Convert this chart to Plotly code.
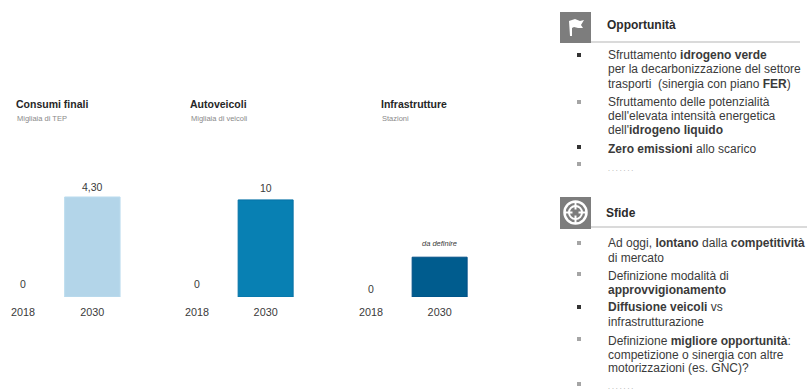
import math
import plotly.graph_objects as go
from plotly.subplots import make_subplots

W, H = 807, 390

years = ["2018", "2030"]
consumi_values = [0, 4.30]
consumi_labels = ["0", "4,30"]
autoveicoli_values = [0, 10]
autoveicoli_labels = ["0", "10"]
infrastrutture_values = [0, 4.1]
infrastrutture_labels = ["0", "<i>da definire</i>"]

panel_titles = ["Consumi finali", "Autoveicoli", "Infrastrutture"]
panel_units = ["Migliaia di TEP", "Migliaia di veicoli", "Stazioni"]
bar_colors = ["#b3d5e9", "#0880b3", "#005c8e"]
bar_edges = ["#bcdcee", "#0672a6", "#004f86"]

opportunita_lines = [
    "Sfruttamento <b>idrogeno verde</b>",
    "per la decarbonizzazione del settore",
    "trasporti  (sinergia con piano <b>FER</b>)",
    "Sfruttamento delle potenzialità",
    "dell'elevata intensità energetica",
    "dell'<b>idrogeno liquido</b>",
    "<b>Zero emissioni</b> allo scarico",
    ". . . . . . .",
]
sfide_lines = [
    "Ad oggi, <b>lontano</b> dalla <b>competitività</b>",
    "di mercato",
    "Definizione modalità di",
    "<b>approvvigionamento</b>",
    "<b>Diffusione veicoli</b> vs",
    "infrastrutturazione",
    "Definizione <b>migliore opportunità</b>:",
    "competizione o sinergia con altre",
    "motorizzazioni (es. GNC)?",
    ". . . . . . .",
]


def px(x):
    return x / W


def py(y):
    return 1 - y / H


FONT = "Liberation Sans"
INK = "#3a3a3a"
fig = make_subplots(rows=1, cols=3)
annotations = []

# value labels sit at a per-point distance above each bar
series = [
    (consumi_values, consumi_labels, 7.18, (0, 127), [13, 10], [10.5, 10.5]),
    (autoveicoli_values, autoveicoli_labels, 17.2, (174, 300), [13, 12], [10.5, 10.5]),
    (infrastrutture_values, infrastrutture_labels, 17.2, (348, 474), [8, 14], [10.5, 7.5]),
]
for i, (vals, labels, ymax, dom, shifts, sizes) in enumerate(series):
    fig.add_trace(
        go.Bar(
            x=years,
            y=vals,
            width=0.8,
            marker=dict(
                color=bar_colors[i],
                line=dict(color=bar_edges[i], width=[0, 1]),
            ),
            showlegend=False,
        ),
        row=1,
        col=i + 1,
    )
    axis_suffix = "" if i == 0 else str(i + 1)
    fig.layout["xaxis" + axis_suffix].update(
        type="category",
        domain=[px(dom[0]), px(dom[1])],
        range=[-1 / 3, 1.5],
        showgrid=False,
        zeroline=False,
        showline=False,
        ticks="",
        ticklabelstandoff=7,
        tickfont=dict(family=FONT, size=10.8, color=INK),
    )
    fig.layout["yaxis" + axis_suffix].update(
        domain=[py(297), py(130)],
        range=[0, ymax],
        visible=False,
    )
    # annotations on a category axis take the category's serial number
    for pos, (val, label, shift, size) in enumerate(zip(vals, labels, shifts, sizes)):
        annotations.append(
            dict(
                xref="x" + axis_suffix,
                yref="y" + axis_suffix,
                x=pos,
                y=val,
                text=label,
                showarrow=False,
                yshift=shift,
                xanchor="center",
                yanchor="middle",
                font=dict(family=FONT, size=size, color=INK),
            )
        )


def add_text(x, y, text, size, color="#333333"):
    annotations.append(
        dict(
            xref="paper",
            yref="paper",
            x=px(x),
            y=py(y),
            text=text,
            showarrow=False,
            xanchor="left",
            yanchor="middle",
            align="left",
            font=dict(family=FONT, size=size, color=color),
        )
    )


title_x = [16, 190, 381]
for x0, title, unit in zip(title_x, panel_titles, panel_units):
    add_text(x0 - 2, 104, f"<b>{title}</b>", 10.5, "#262626")
    add_text(x0 - 1, 118, unit, 7.5, "#8a8a8a")

add_text(605, 25, "<b>Opportunità</b>", 12, "#2b2b2b")
add_text(604, 213, "<b>Sfide</b>", 12, "#2b2b2b")

opp_y = [55, 69, 84, 102, 116, 130, 149, 168]
sfide_y = [243, 258, 276, 290, 307, 322, 341, 355, 368, 386]
for y, line in zip(opp_y, opportunita_lines):
    is_dots = line.startswith(".")
    add_text(606, y, line, 7 if is_dots else 12, "#9a9a9a" if is_dots else INK)
for y, line in zip(sfide_y, sfide_lines):
    is_dots = line.startswith(".")
    add_text(606, y, line, 7 if is_dots else 12, "#9a9a9a" if is_dots else INK)

shapes = []


def rect(x0, y0, x1, y1, color):
    shapes.append(
        dict(type="rect", xref="paper", yref="paper", x0=px(x0), x1=px(x1),
             y0=py(y1), y1=py(y0), fillcolor=color, line_width=0, layer="below")
    )


def hline(x0, x1, y, color="#b5b5b5"):
    shapes.append(
        dict(type="line", xref="paper", yref="paper", x0=px(x0), x1=px(x1),
             y0=py(y), y1=py(y), line=dict(color=color, width=1))
    )


def polygon(points, fill):
    path = "M " + " L ".join(f"{px(x):.5f},{py(y):.5f}" for x, y in points) + " Z"
    shapes.append(dict(type="path", xref="paper", yref="paper", path=path,
                       fillcolor=fill, line_width=0))


def ring(cx, cy, r, width, color):
    shapes.append(
        dict(type="circle", xref="paper", yref="paper", x0=px(cx - r), x1=px(cx + r),
             y0=py(cy + r), y1=py(cy - r), line=dict(color=color, width=width))
    )


# section header icons and rules
rect(560, 12, 591, 43, "#7d7d7d")
rect(560, 197, 591, 229, "#7d7d7d")
hline(591, 800, 42)
hline(591, 807, 227)

# flag glyph
polygon(
    [(569, 21), (575, 19), (580, 21), (584, 20), (581, 25), (583, 28),
     (578, 28), (574, 27), (572, 28), (572, 36), (570, 36)],
    "#ffffff",
)

# crosshair glyph
ring(575.5, 212.5, 11, 2.5, "#ffffff")
ring(575.5, 212.5, 6.5, 2, "#ffffff")
for a in range(4):
    ang = a * math.pi / 2
    dx, dy = math.cos(ang), math.sin(ang)
    shapes.append(
        dict(type="line", xref="paper", yref="paper",
             x0=px(575.5 + 3 * dx), x1=px(575.5 + 11 * dx),
             y0=py(212.5 + 3 * dy), y1=py(212.5 + 11 * dy),
             line=dict(color="#ffffff", width=2))
    )

bullets = [
    (579, 55, "#333333"), (579, 102, "#a5a5a5"), (579, 147, "#333333"), (579, 164, "#a5a5a5"),
    (579, 243, "#a5a5a5"), (579, 274, "#a5a5a5"), (579, 307, "#333333"),
    (579, 339, "#a5a5a5"), (579, 384, "#a5a5a5"),
]
for bx, by, color in bullets:
    rect(bx - 2, by - 2, bx + 2, by + 2, color)

fig.update_layout(
    width=W,
    height=H,
    margin=dict(l=0, r=0, t=0, b=0),
    paper_bgcolor="#ffffff",
    plot_bgcolor="#ffffff",
    annotations=annotations,
    shapes=shapes,
)

fig.write_html("out.html", config={"displayModeBar": False})
